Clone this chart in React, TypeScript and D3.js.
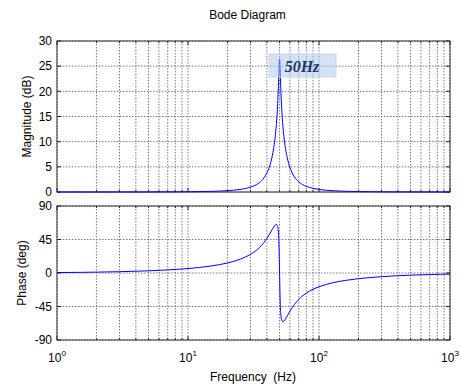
import React from "react";
import * as d3 from "d3";

// Frequency samples (Hz) and the values
const freqHz = [1, 1.5, 2, 3, 5, 7, 10, 15, 20, 25, 30, 32, 35, 38, 40, 42, 44, 45, 46, 47, 47.5, 48, 48.5, 49, 49.5, 50, 50.5, 51, 51.5, 52, 53, 54, 55, 56, 58, 60, 65, 70, 75, 80, 90, 100, 130, 160, 200, 300, 500, 700, 1000];
const magnitudeDb = [0, 0.001, 0.002, 0.004, 0.012, 0.025, 0.052, 0.13, 0.267, 0.508, 0.954, 1.232, 1.835, 2.794, 3.757, 5.137, 7.169, 8.562, 10.334, 12.67, 14.15, 15.94, 18.15, 20.94, 24.31, 26.44, 24.35, 21.07, 18.37, 16.25, 13.15, 10.957, 9.313, 8.028, 6.154, 4.87, 2.988, 2.024, 1.467, 1.119, 0.72, 0.508, 0.241, 0.143, 0.086, 0.036, 0.012, 0.006, 0];
const phaseDeg = [0.58, 0.87, 1.16, 1.74, 2.91, 4.12, 5.99, 9.42, 13.46, 18.47, 25.04, 28.27, 34.0, 41.0, 46.41, 52.38, 58.54, 61.45, 63.9, 65.33, 65.22, 64.08, 60.96, 53.69, 36.4, 0, -36.14, -53.25, -60.54, -63.76, -65.38, -64.48, -62.64, -60.44, -55.78, -51.35, -42.2, -35.56, -30.69, -27.01, -21.88, -18.47, -12.78, -9.885, -7.65, -4.94, -2.91, -2.07, -1.45];

const magTicks = [0, 5, 10, 15, 20, 25, 30];
const phaseTicks = [-90, -45, 0, 45, 90];
const decadeTicks = [1, 10, 100, 1000];
const decadeExp = ["0", "1", "2", "3"];
const title = "Bode Diagram";
const magLabel = "Magnitude (dB)";
const phaseLabel = "Phase (deg)";
const xLabel = "Frequency  (Hz)";
const annotation = "50Hz";

const W = 462;
const H = 385;
const left = 57;
const right = 450;
const magTop = 41;
const magBottom = 192;
const phTop = 206;
const phBottom = 340;
const FONT = "'Liberation Sans', Arial, Helvetica, sans-serif";

export default function App() {
  const x = d3.scaleLog().domain([1, 1000]).range([left, right]);
  const yMag = d3.scaleLinear().domain([0, 30]).range([magBottom, magTop]);
  const yPh = d3.scaleLinear().domain([-90, 90]).range([phBottom, phTop]);
  const xGrid = x.ticks();

  const magLine = d3
    .line<number>()
    .x((_, i) => x(freqHz[i]))
    .y((d) => yMag(d))
    .curve(d3.curveMonotoneX);
  const phLine = d3
    .line<number>()
    .x((_, i) => x(freqHz[i]))
    .y((d) => yPh(d))
    .curve(d3.curveMonotoneX);

  const gridStyle = { stroke: "#7a7a7a", strokeWidth: 1, strokeDasharray: "1.5,1.5" };

  const panel = (yS: d3.ScaleLinear<number, number>, top: number, bottom: number, ticks: number[], showXLabels: boolean) => (
    <g>
      {xGrid.map((f, i) => (
        <line key={"vx" + i} x1={x(f)} x2={x(f)} y1={top} y2={bottom} style={gridStyle} />
      ))}
      {ticks.map((t, i) => (
        <line key={"hy" + i} x1={left} x2={right} y1={yS(t)} y2={yS(t)} style={gridStyle} />
      ))}
      {xGrid.map((f, i) => {
        const major = decadeTicks.includes(f);
        const len = major ? 4 : 2;
        return (
          <g key={"tk" + i}>
            <line x1={x(f)} x2={x(f)} y1={bottom} y2={bottom - len} stroke="#222" />
            <line x1={x(f)} x2={x(f)} y1={top} y2={top + len} stroke="#222" />
          </g>
        );
      })}
      {ticks.map((t, i) => (
        <g key={"ty" + i}>
          <line x1={left} x2={left + 4} y1={yS(t)} y2={yS(t)} stroke="#222" />
          <line x1={right} x2={right - 4} y1={yS(t)} y2={yS(t)} stroke="#222" />
          <text x={left - 5} y={yS(t)} dy="0.35em" textAnchor="end" fontSize={12} fontFamily={FONT} fill="#000">
            {t}
          </text>
        </g>
      ))}
      <rect x={left} y={top} width={right - left} height={bottom - top} fill="none" stroke="#333" strokeWidth={1} />
      {showXLabels &&
        decadeTicks.map((f, i) => (
          <text key={"xl" + i} x={x(f)} y={bottom + 22} textAnchor="middle" fontSize={12} fontFamily={FONT} fill="#000">
            10
            <tspan dy={-6} fontSize={8}>
              {decadeExp[i]}
            </tspan>
          </text>
        ))}
    </g>
  );

  return (
    <div style={{ position: "fixed", left: 0, top: 0, width: W, height: H, background: "#fff" }}>
      <svg width={W} height={H} viewBox={`0 0 ${W} ${H}`} style={{ display: "block" }}>
        <rect x={0} y={0} width={W} height={H} fill="#fff" />
        <text x={247.5} y={18.5} textAnchor="middle" fontSize={12} fontFamily={FONT} fill="#000">
          {title}
        </text>
        {panel(yMag, magTop, magBottom, magTicks, false)}
        {panel(yPh, phTop, phBottom, phaseTicks, true)}
        <path d={magLine(magnitudeDb) || ""} fill="none" stroke="#0000ff" strokeWidth={1} />
        <path d={phLine(phaseDeg) || ""} fill="none" stroke="#0000ff" strokeWidth={1} />
        <rect x={269} y={54} width={67} height={23} fill="#a9c6ec" fillOpacity={0.5} stroke="#c9daf1" strokeWidth={1} />
        <text x={302} y={72} textAnchor="middle" fontSize={16} fontWeight="bold" fontStyle="italic" fontFamily="'Liberation Serif', 'Times New Roman', serif" fill="#1f3864">
          {annotation}
        </text>
        <text transform={`translate(31, ${(magTop + magBottom) / 2}) rotate(-90)`} textAnchor="middle" fontSize={12} fontFamily={FONT} fill="#000">
          {magLabel}
        </text>
        <text transform={`translate(26, ${(phTop + phBottom) / 2}) rotate(-90)`} textAnchor="middle" fontSize={12} fontFamily={FONT} fill="#000">
          {phaseLabel}
        </text>
        <text x={253} y={381} textAnchor="middle" fontSize={12} fontFamily={FONT} fill="#000" style={{ whiteSpace: "pre" }}>
          {xLabel}
        </text>
      </svg>
    </div>
  );
}
